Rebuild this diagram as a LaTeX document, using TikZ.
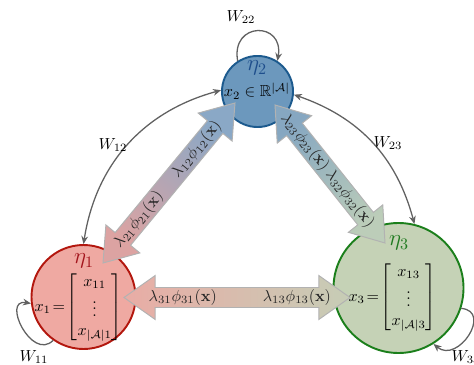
\documentclass[tikz,border=0pt]{standalone}
\usepackage{amsmath,amssymb}
\usetikzlibrary{calc,arrows.meta}
\definecolor{fillA}{HTML}{EFA9A2}
\definecolor{lineA}{HTML}{B3170E}
\definecolor{labA}{HTML}{A3141C}
\definecolor{fillB}{HTML}{6C98BD}
\definecolor{lineB}{HTML}{1C5A8E}
\definecolor{labB}{HTML}{1E4E8C}
\definecolor{fillC}{HTML}{C5D2B6}
\definecolor{lineC}{HTML}{1B7F1B}
\definecolor{labC}{HTML}{1F7A1F}
\definecolor{arA}{HTML}{DCA3A2}
\definecolor{arB}{HTML}{8AA8C6}
\definecolor{arAl}{HTML}{E9ACA5}
\definecolor{arCl}{HTML}{C6CDB6}
\definecolor{arBt}{HTML}{86A7C1}
\definecolor{arCb}{HTML}{BCCDB9}
\newcommand\hl{19.5pt}
\newcommand\hw{13.75pt}
\newcommand\sw{6.25pt}
\newcommand\dblarr[3]{%
  \coordinate (#1h) at ($(#1)!\hl!(#2)$);
  \coordinate (#2h) at ($(#2)!\hl!(#1)$);
  \draw[dblstyle,#3] (#1) -- ($(#1h)!\hw!-90:(#2)$) -- ($(#1h)!\sw!-90:(#2)$)
    -- ($(#2h)!\sw!90:(#1)$) -- ($(#2h)!\hw!90:(#1)$) -- (#2)
    -- ($(#2h)!\hw!-90:(#1)$) -- ($(#2h)!\sw!-90:(#1)$)
    -- ($(#1h)!\sw!90:(#2)$) -- ($(#1h)!\hw!90:(#2)$) -- cycle;}
\begin{document}
\begin{tikzpicture}[x=0.625pt,y=0.625pt,
  >={Stealth[length=5pt,width=4.2pt]},
  state/.style={circle, line width=1.2pt, inner sep=0pt},
  conn/.style={draw=black!62, line width=0.8pt},
  dblstyle/.style={draw=black!30, line width=0.6pt, line join=miter},
  lbl/.style={text=black!85, inner sep=1pt},
  eta/.style={font=\Large, inner sep=1pt}]
\clip (0,0) rectangle (474,364);
% states
\node[state, minimum size=65pt, fill=fillA, draw=lineA] (n1) at (83.5,67) {};
\node[state, minimum size=44.4pt, fill=fillB, draw=lineB] (n2) at (257.5,272.5) {};
\node[state, minimum size=81.25pt, fill=fillC, draw=lineC] (n3) at (398.5,76) {};
% weights
\draw[conn,<->] (n2.178) to[bend right=33] (n1.90);
\draw[conn,<->] (n2.355) to[bend left=28] (n3.76);
\draw[conn,->] (n2.123) to[out=100,in=80,looseness=2.6] (n2.57);
\draw[conn,->] (n1.235) to[out=225,in=170,looseness=1.8] (n1.187);
\draw[conn,->] (n3.-18) to[out=-5,in=-40,looseness=1.8] (n3.-58);
\node (w12) at (113,219) {$W_{12}$};
\node (w23) at (388,221) {$W_{23}$};
\node (w22) at (241,347) {$W_{22}$};
\node (w11) at (34,7) {$W_{11}$};
\node (w33) at (466,7) {$W_{33}$};
% double arrows
\coordinate (a12s) at (103,101);
\coordinate (a12e) at (235,261);
\coordinate (a23s) at (275,259);
\coordinate (a23e) at (385,121);
\coordinate (a13s) at (124,66.5);
\coordinate (a13e) at (350,66.5);
\dblarr{a12s}{a12e}{top color=arB, bottom color=arA, shading angle=-39.5}
\dblarr{a23s}{a23e}{top color=arBt, bottom color=arCb, shading angle=38.6}
\dblarr{a13s}{a13e}{left color=arAl, right color=arCl}
\path (a12s) -- (a12e)
  node[lbl, pos=0.27, sloped] (l21) {$\lambda_{21}\phi_{21}(\mathbf{x})$}
  node[lbl, pos=0.71, sloped] (l12) {$\lambda_{12}\phi_{12}(\mathbf{x})$};
\path (a23s) -- (a23e)
  node[lbl, pos=0.27, sloped] (l23) {$\lambda_{23}\phi_{23}(\mathbf{x})$}
  node[lbl, pos=0.68, sloped] (l32) {$\lambda_{32}\phi_{32}(\mathbf{x})$};
\path (a13s) -- (a13e)
  node[lbl, pos=0.26] (l31) {$\lambda_{31}\phi_{31}(\mathbf{x})$}
  node[lbl, pos=0.765] (l13) {$\lambda_{13}\phi_{13}(\mathbf{x})$};
% contents
\node[eta, text=labA] (e1) at (84,103) {$\eta_1$};
\node[eta, text=labB] (e2) at (257,296) {$\eta_2$};
\node[eta, text=labC] (e3) at (399,121) {$\eta_3$};
\node (x1) at (78.5,57) {$x_1\!=\!\begin{bmatrix}x_{11}\\ \vdots\\ x_{|\mathcal{A}|1}\end{bmatrix}$};
\node (x2) at (257,273) {$x_2\in\mathbb{R}^{|\mathcal{A}|}$};
\node (x3) at (392.5,67) {$x_3\!=\!\begin{bmatrix}x_{13}\\ \vdots\\ x_{|\mathcal{A}|3}\end{bmatrix}$};
\end{tikzpicture}
\end{document}
